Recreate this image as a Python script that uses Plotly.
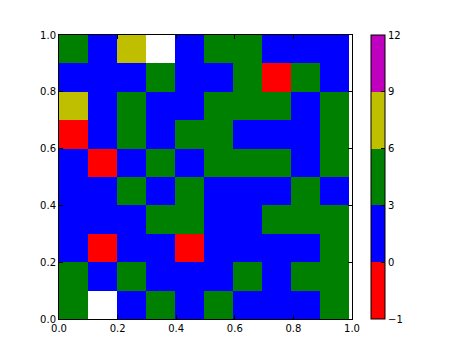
import numpy as np
import plotly.graph_objects as go

# cell values, rows listed bottom (y=0) to top (y=1); None = empty (white)
row0 = [4, None, 1, 5, 2, 3, 0, 2, 1, 4]
row1 = [3, 2, 5, 1, 0, 2, 4, 1, 3, 5]
row2 = [1, -1, 2, 0, -1, 1, 2, 0, 2, 4]
row3 = [2, 0, 1, 4, 3, 1, 2, 5, 3, 4]
row4 = [0, 2, 3, 1, 5, 2, 0, 1, 4, 2]
row5 = [1, -1, 2, 4, 0, 3, 5, 4, 1, 3]
row6 = [-1, 2, 4, 1, 3, 5, 2, 0, 1, 4]
row7 = [7, 1, 5, 0, 2, 4, 3, 5, 2, 3]
row8 = [2, 0, 1, 3, 1, 2, 4, -1, 5, 0]
row9 = [5, 1, 6, None, 0, 3, 4, 2, 1, 2]

bounds = [-1, 0, 3, 6, 9, 12]
bound_labels = ["\u22121", "0", "3", "6", "9", "12"]
colors = ["#ff0000", "#0000ff", "#008000", "#bfbf00", "#bf00bf"]
x_edges = [0.0, 0.099, 0.198, 0.297, 0.396, 0.495, 0.594, 0.693, 0.792, 0.891, 0.99]
y_edges = [0.0, 0.1, 0.2, 0.3, 0.4, 0.5, 0.6, 0.7, 0.8, 0.9, 1.0]

rows = [row0, row1, row2, row3, row4, row5, row6, row7, row8, row9]

# map values to bin index (BoundaryNorm-like, equal-length colorbar segments)
z = []
for r in rows:
    zr = []
    for v in r:
        if v is None:
            zr.append(None)
        else:
            b = int(np.digitize(v, bounds)) - 1
            b = min(max(b, 0), len(colors) - 1)
            zr.append(b + 0.5)
    z.append(zr)

n = len(colors)
cscale = []
for i, c in enumerate(colors):
    cscale.append([i / n, c])
    cscale.append([(i + 1) / n, c])

fig = go.Figure(go.Heatmap(
    z=z, x=x_edges, y=y_edges,
    zmin=0, zmax=n,
    colorscale=cscale,
    hoverinfo="skip",
    colorbar=dict(
        tickvals=list(range(len(bounds))),
        ticktext=bound_labels,
        ticks="inside", ticklen=4, tickcolor="black",
        outlinewidth=1, outlinecolor="black",
        thickness=14, len=1.0, lenmode="fraction",
        x=1.066, xanchor="left", xpad=0,
        y=0.5, yanchor="middle", ypad=0,
        tickfont=dict(family="DejaVu Sans", size=10, color="black"),
    ),
))

axis_common = dict(
    range=[0, 1], tickvals=[0, 0.2, 0.4, 0.6, 0.8, 1.0],
    ticktext=["0.0", "0.2", "0.4", "0.6", "0.8", "1.0"],
    ticks="inside", ticklen=4, tickcolor="black",
    showline=True, linecolor="black", linewidth=1, mirror="ticks",
    showgrid=False, zeroline=False,
    tickfont=dict(family="DejaVu Sans", size=10, color="black"),
)

fig.update_layout(
    width=474, height=355,
    margin=dict(l=59, r=122, t=35, b=36),
    paper_bgcolor="white", plot_bgcolor="white",
    xaxis=dict(**axis_common),
    yaxis=dict(**axis_common),
    font=dict(family="DejaVu Sans", size=10, color="black"),
)

fig.write_html("out.html")
